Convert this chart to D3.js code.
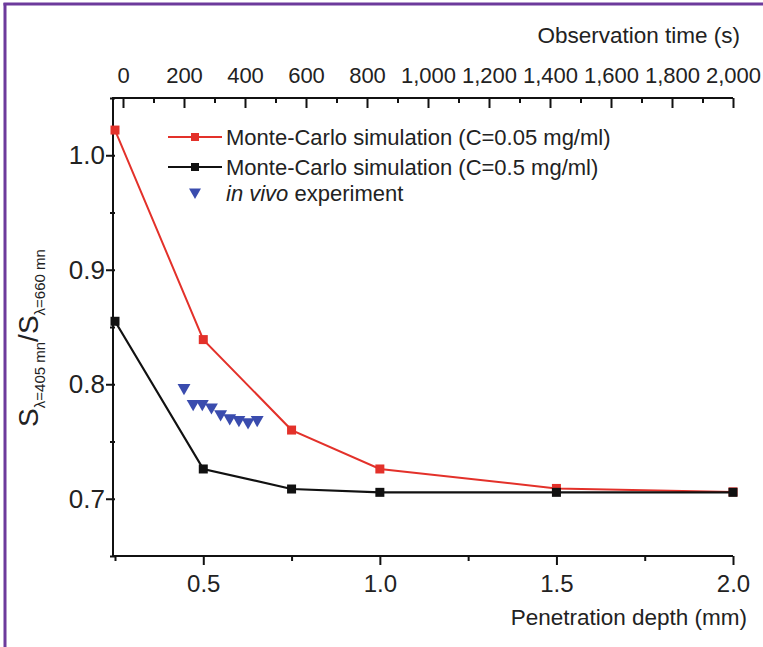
<!DOCTYPE html>
<html>
<head>
<meta charset="utf-8">
<script src="https://cdn.jsdelivr.net/npm/d3@7"></script>
<style>
  body { margin: 0; background: #fff; }
  svg { display: block; font-family: "Liberation Sans", Arial, sans-serif; }
  .axis text { fill: #222; }
  .axis line { stroke: #111; stroke-width: 2; }
</style>
</head>
<body>
<div id="chart"></div>
<script>
// depth (mm) for the two Monte-Carlo series
var depths = [0.25, 0.5, 0.75, 1.0, 1.5, 2.0];
var mcLowConc = [1.022, 0.839, 0.760, 0.726, 0.709, 0.706];   // C=0.05 mg/ml
var mcHighConc = [0.855, 0.726, 0.7085, 0.7056, 0.7056, 0.7056]; // C=0.5 mg/ml

// in vivo experiment, plotted against observation time (s)
var vivoTime = [200, 230, 260, 290, 320, 350, 380, 410, 440];
var vivoRatio = [0.797, 0.783, 0.783, 0.780, 0.774, 0.7705, 0.769, 0.767, 0.769];

var depthTicks = [0.5, 1.0, 1.5, 2.0];
var depthMinor = [0.25, 0.75, 1.25, 1.75];
var ratioTicks = [0.7, 0.8, 0.9, 1.0];
var ratioMinor = [0.65, 0.75, 0.85, 0.95, 1.05];
var timeTicks = [0, 200, 400, 600, 800, 1000, 1200, 1400, 1600, 1800, 2000];
var timeMinor = [100, 300, 500, 700, 900, 1100, 1300, 1500, 1700, 1900];

var legendLabels = ['Monte-Carlo simulation (C=0.05 mg/ml)', 'Monte-Carlo simulation (C=0.5 mg/ml)'];

var width = 763, height = 647;
var plotLeft = 115, plotRight = 733, plotTop = 98, plotBottom = 556;

var red = '#e3312a', black = '#111', blue = '#3a4cae', purple = '#6d3a9c';

var x = d3.scaleLinear().domain([0.25, 2.0]).range([plotLeft, plotRight]);
var y = d3.scaleLinear().domain([0.65, 1.05]).range([plotBottom, plotTop]);
var t = d3.scaleLinear().domain([0, 2000]).range([123, plotRight]);

var svg = d3.select('#chart').append('svg')
    .attr('width', width)
    .attr('height', height);

// purple frame (left and top edges)
svg.append('line').attr('x1', 5).attr('x2', 5).attr('y1', 3).attr('y2', height)
    .attr('stroke', purple).attr('stroke-width', 3);
svg.append('line').attr('x1', 3.5).attr('x2', width).attr('y1', 4).attr('y2', 4)
    .attr('stroke', purple).attr('stroke-width', 3);

// bottom axis
svg.append('g').attr('class', 'axis')
    .attr('transform', 'translate(0,' + plotBottom + ')')
    .call(d3.axisBottom(x).tickValues(depthTicks).tickSize(9).tickPadding(10)
        .tickFormat(d3.format('.1f')))
    .call(g => g.select('.domain').remove())
    .selectAll('text').attr('font-size', 24);
svg.append('g').attr('class', 'axis')
    .attr('transform', 'translate(0,' + plotBottom + ')')
    .call(d3.axisBottom(x).tickValues(depthMinor).tickSize(5).tickFormat(''))
    .call(g => g.select('.domain').remove());

// left axis
svg.append('g').attr('class', 'axis')
    .attr('transform', 'translate(' + plotLeft + ',0)')
    .call(d3.axisLeft(y).tickValues(ratioTicks).tickSize(9).tickPadding(1)
        .tickFormat(d3.format('.1f')))
    .call(g => g.select('.domain').remove())
    .selectAll('text').attr('font-size', 26);
svg.append('g').attr('class', 'axis')
    .attr('transform', 'translate(' + plotLeft + ',0)')
    .call(d3.axisLeft(y).tickValues(ratioMinor).tickSize(5).tickFormat(''))
    .call(g => g.select('.domain').remove());

// top axis (observation time), ticks point inward
svg.append('g').attr('class', 'axis')
    .attr('transform', 'translate(0,' + plotTop + ')')
    .call(d3.axisBottom(t).tickValues(timeTicks).tickSize(10).tickFormat(''))
    .call(g => g.select('.domain').remove());
svg.append('g').attr('class', 'axis')
    .attr('transform', 'translate(0,' + plotTop + ')')
    .call(d3.axisBottom(t).tickValues(timeMinor).tickSize(5).tickFormat(''))
    .call(g => g.select('.domain').remove());
svg.append('g').attr('class', 'axis')
    .attr('transform', 'translate(0,' + plotTop + ')')
    .call(d3.axisTop(t).tickValues(timeTicks).tickSize(0).tickPadding(15)
        .tickFormat(d3.format(',')))
    .call(g => g.select('.domain').remove())
    .selectAll('text').attr('font-size', 22);

// spines
svg.append('path')
    .attr('d', 'M' + plotRight + ',' + plotTop + 'H' + (plotLeft - 2) + 'V' + plotBottom + 'H' + plotRight)
    .attr('fill', 'none').attr('stroke', black).attr('stroke-width', 2);

// axis titles
svg.append('text')
    .attr('x', 740).attr('y', 43)
    .attr('text-anchor', 'end').attr('font-size', 22.5).attr('fill', '#222')
    .text('Observation time (s)');

svg.append('text')
    .attr('x', 747).attr('y', 625)
    .attr('text-anchor', 'end').attr('font-size', 22.5).attr('fill', '#222')
    .text('Penetration depth (mm)');

var ytitle = svg.append('text')
    .attr('transform', 'translate(38,338) rotate(-90)')
    .attr('text-anchor', 'middle').attr('fill', '#222').attr('font-size', 28);
ytitle.append('tspan').text('S');
ytitle.append('tspan').attr('font-size', 15).attr('dy', 7).text('\u03bb=405 mn');
ytitle.append('tspan').attr('dy', -7).text('/S');
ytitle.append('tspan').attr('font-size', 15).attr('dy', 7).text('\u03bb=660 mn');

// series
var line = d3.line()
    .x(function (d) { return x(d[0]); })
    .y(function (d) { return y(d[1]); });

function drawSeries(values, color, w) {
    var pts = depths.map(function (d, i) { return [d, values[i]]; });
    svg.append('path').datum(pts)
        .attr('d', line)
        .attr('fill', 'none').attr('stroke', color).attr('stroke-width', w);
    svg.append('g').selectAll('rect')
        .data(pts)
        .join('rect')
        .attr('x', function (d) { return x(d[0]) - 4.5; })
        .attr('y', function (d) { return y(d[1]) - 4.5; })
        .attr('width', 9).attr('height', 9)
        .attr('fill', color);
}
drawSeries(mcLowConc, red, 2);
drawSeries(mcHighConc, black, 2.2);

var tri = d3.symbol().type(d3.symbolTriangle).size(72);
svg.append('g').selectAll('path')
    .data(vivoTime)
    .join('path')
    .attr('d', tri)
    .attr('transform', function (d, i) {
        return 'translate(' + t(d) + ',' + y(vivoRatio[i]) + ') rotate(180)';
    })
    .attr('fill', blue);

// legend
var rows = [137, 167];
[red, black].forEach(function (c, i) {
    svg.append('line').attr('x1', 168).attr('x2', 222)
        .attr('y1', rows[i]).attr('y2', rows[i])
        .attr('stroke', c).attr('stroke-width', 2);
    svg.append('rect').attr('x', 191).attr('y', rows[i] - 4)
        .attr('width', 8).attr('height', 8).attr('fill', c);
    svg.append('text').attr('x', 226).attr('y', rows[i] + 8)
        .attr('font-size', 22).attr('fill', '#222')
        .text(legendLabels[i]);
});
svg.append('path').attr('d', d3.symbol().type(d3.symbolTriangle).size(62))
    .attr('transform', 'translate(195,192) rotate(180)')
    .attr('fill', blue);
var vivoLabel = svg.append('text').attr('x', 226).attr('y', 201)
    .attr('font-size', 22).attr('fill', '#222');
vivoLabel.append('tspan').attr('font-style', 'italic').text('in vivo');
vivoLabel.append('tspan').text(' experiment');
</script>
</body>
</html>
